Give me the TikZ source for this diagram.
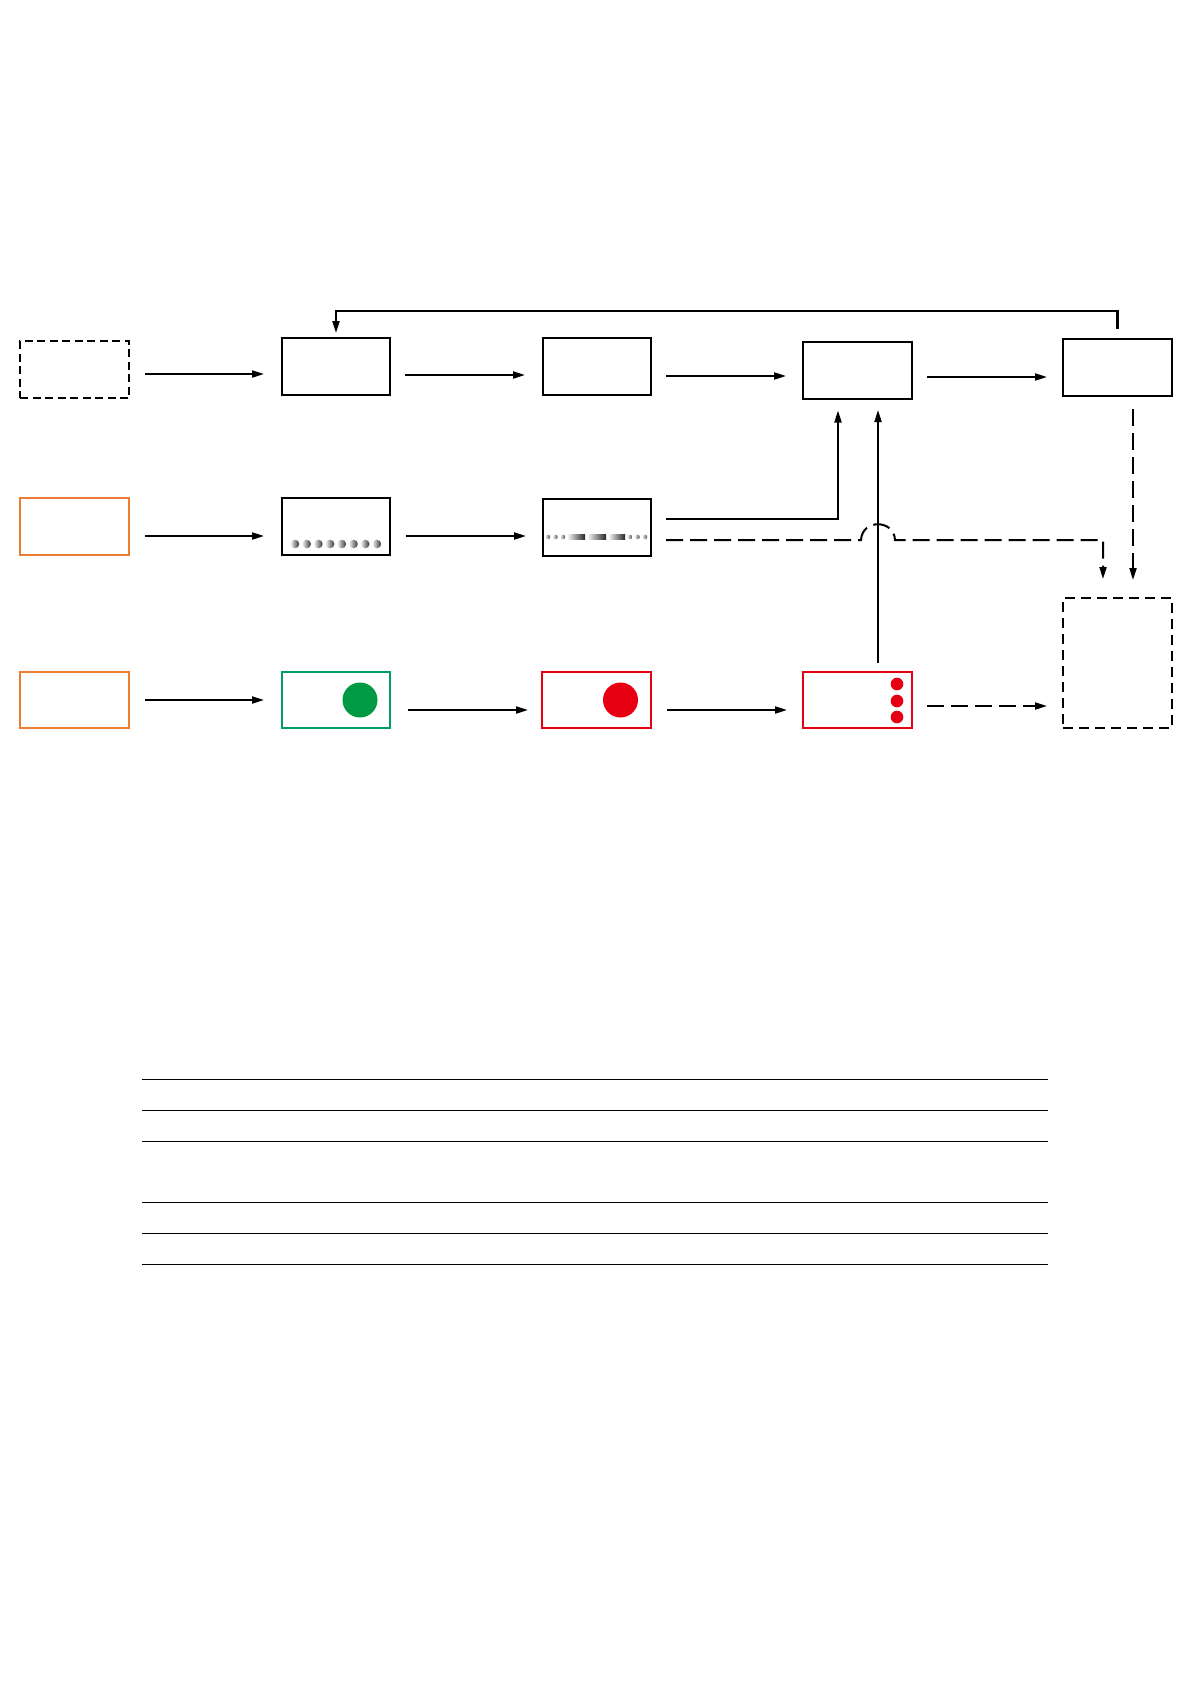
\documentclass[tikz,border=0pt]{standalone}
\usetikzlibrary{arrows.meta,calc}
\definecolor{orng}{RGB}{237,125,49}
\definecolor{grn}{RGB}{0,158,96}
\definecolor{grnfill}{RGB}{0,153,68}
\definecolor{rd}{RGB}{230,0,18}
\begin{document}
\begin{tikzpicture}[x=1pt,y=-1pt,
  box/.style={draw=black, line width=2pt, minimum width=108pt, minimum height=57pt, inner sep=0pt, outer sep=0pt},
  dbox/.style={box, dash pattern=on 8pt off 4.5pt, line width=2.3pt},
  obox/.style={box, draw=orng, line width=1.9pt},
  gbox/.style={box, draw=grn, line width=1.8pt},
  rbox/.style={box, draw=rd, line width=1.8pt},
  arr/.style={line width=2pt, -{Triangle[length=12pt,width=7pt]}},
  darr/.style={arr, dash pattern=on 17pt off 7pt},
  rule/.style={line width=1pt}
]
\useasboundingbox[fill=white] (0,0) rectangle (1191,1684);

% row 1
\node[dbox, minimum width=109pt] (A1) at (74.5,369.5) {};
\node[box] (B1) at (336,366.5) {};
\node[box] (C1) at (597,366.5) {};
\node[box, minimum width=109pt] (D1) at (857.5,370.5) {};
\node[box, minimum width=109pt] (E1) at (1117.5,367.5) {};
% row 2
\node[obox, minimum width=109pt] (A2) at (74.5,526.5) {};
\node[box] (B2) at (336,526.5) {};
\node[box] (C2) at (597,527.5) {};
% row 3
\node[obox, minimum width=109pt, minimum height=56pt] (A3) at (74.5,700) {};
\node[gbox, minimum height=56pt] (B3) at (336,700) {};
\node[rbox, minimum width=109pt, minimum height=56pt] (C3) at (596.5,700) {};
\node[rbox, minimum width=109pt, minimum height=56pt] (D3) at (857.5,700) {};
\node[box, minimum width=109pt, minimum height=130pt, dash pattern=on 10pt off 6pt] (E3) at (1117.5,663) {};

% contents
\fill[grnfill] ($(B3.center)+(24,0)$) circle (17.5);
\fill[rd] ($(C3.center)+(24,0)$) circle (17.5);
\foreach \yy in {-16,1,17} \fill[rd] ($(D3.center)+(39.5,\yy)$) circle (6.3);
\foreach \i in {0,...,7}
  \shade[left color=gray!15, right color=black!80] ({295+11.7*\i},544) circle (4.3);
\foreach \xx in {548,555.5,563,630,637.5,645}
  \shade[left color=gray!25, right color=black!70] (\xx,537) circle (2.3);
\foreach \xa/\xb in {568/585,588/606,609/625}
  \shade[left color=gray!10, right color=black!85] (\xa,534.6) rectangle (\xb,539.4);

% row 1 arrows
\draw[arr] ($(A1.east)+(16,4.5)$) -- ($(B1.west)+(-18,7.5)$);
\draw[arr] ($(B1.east)+(15,8.5)$) -- ($(C1.west)+(-18,8.5)$);
\draw[arr] ($(C1.east)+(15,9.5)$) -- ($(D1.west)+(-17,5.5)$);
\draw[arr] ($(D1.east)+(15,6.5)$) -- ($(E1.west)+(-16,9.5)$);
% row 2 arrows
\draw[arr] ($(A2.east)+(16,9.5)$) -- ($(B2.west)+(-18,9.5)$);
\draw[arr] ($(B2.east)+(16,9.5)$) -- ($(C2.west)+(-17,8.5)$);
% row 3 arrows
\draw[arr] ($(A3.east)+(16,0)$) -- ($(B3.west)+(-18,0)$);
\draw[arr] ($(B3.east)+(18,10)$) -- ($(C3.west)+(-14,10)$);
\draw[arr] ($(C3.east)+(16,10)$) -- ($(D3.west)+(-16,10)$);
\draw[darr] ($(D3.east)+(15,6)$) -- ($(E3.west)+(-16,43)$);

% feedback
\draw[arr, line width=2.2pt] ($(E1.north)+(0,-10)$) |- ($(B1.north)+(0,-27)$) -- ($(B1.north)+(0,-5)$);

% C2 -> D1
\draw[arr] ($(C2.east)+(15,-8.5)$) -| ($(D1.south)+(-19.5,11.5)$);
% D3 -> D1
\coordinate (vx) at ($(D3.north)+(20.5,-9)$);
\draw[arr] (vx) -- ($(D1.south)+(20.5,11)$);

% dashed C2 -> E3 with jump
\coordinate (ds) at ($(C2.east)+(15,12.5)$);
\coordinate (de) at ($(E3.north)+(-14.5,-19)$);
\coordinate (jmp) at (ds -| vx);
\draw[darr] (ds) -- ($(jmp)+(-17,0)$) .. controls ($(jmp)+(-16,-21)$) and ($(jmp)+(16,-21)$) .. ($(jmp)+(17,0)$) -- (de |- ds) -- (de);
% E1 -> E3
\draw[darr] ($(E1.south)+(15.5,13)$) -- ($(E3.north)+(15.5,-18)$);

% rules
\foreach \yy in {1079,1110,1141,1202,1233,1264}
  \draw[rule] (142,\yy) -- (1048,\yy);
\end{tikzpicture}
\end{document}
